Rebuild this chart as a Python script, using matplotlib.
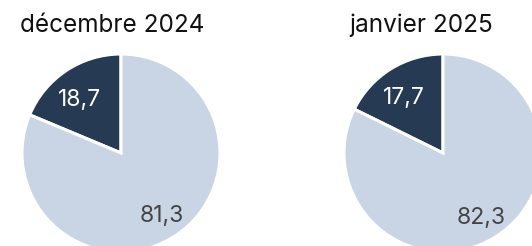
import matplotlib
matplotlib.use("Agg")
import matplotlib.pyplot as plt
import numpy as np

titles = ["décembre 2024", "janvier 2025"]
dark_vals = [18.7, 17.7]
light_vals = [81.3, 82.3]
labels_dark = ["18,7", "17,7"]
labels_light = ["81,3", "82,3"]

DARK = "#263a54"
LIGHT = "#c9d5e5"
FONT = ["Inter", "DejaVu Sans"]

W, H = 532, 246
fig = plt.figure(figsize=(W / 100, H / 100), dpi=100)

centers_x = [121, 443]
center_y = 153
R = 99
title_x = [112, 421]

for i in range(2):
    cx = centers_x[i]
    ax = fig.add_axes([(cx - R) / W, (H - center_y - R) / H, 2 * R / W, 2 * R / H])
    wedges, _ = ax.pie([dark_vals[i], light_vals[i]], colors=[DARK, LIGHT],
                       startangle=90, counterclock=True, radius=1,
                       wedgeprops=dict(edgecolor="white", linewidth=2.2))
    ax.set_xlim(-1, 1)
    ax.set_ylim(-1, 1)
    ax.set_aspect("equal")
    ax.axis("off")
    for w, lab, col, dist, off in [(wedges[0], labels_dark[i], "white", 0.68, 4),
                                   (wedges[1], labels_light[i], "#444444", 0.76, -1)]:
        ang = np.deg2rad((w.theta1 + w.theta2) / 2 + off)
        ax.text(dist * np.cos(ang), dist * np.sin(ang), lab, color=col,
                fontsize=16.5, ha="center", va="center", family=FONT)
    fig.text(title_x[i] / W, 1 - 25 / H, titles[i], fontsize=17.5,
             ha="center", va="center", family=FONT, color="#111111")

fig.savefig("out.png", dpi=100)
